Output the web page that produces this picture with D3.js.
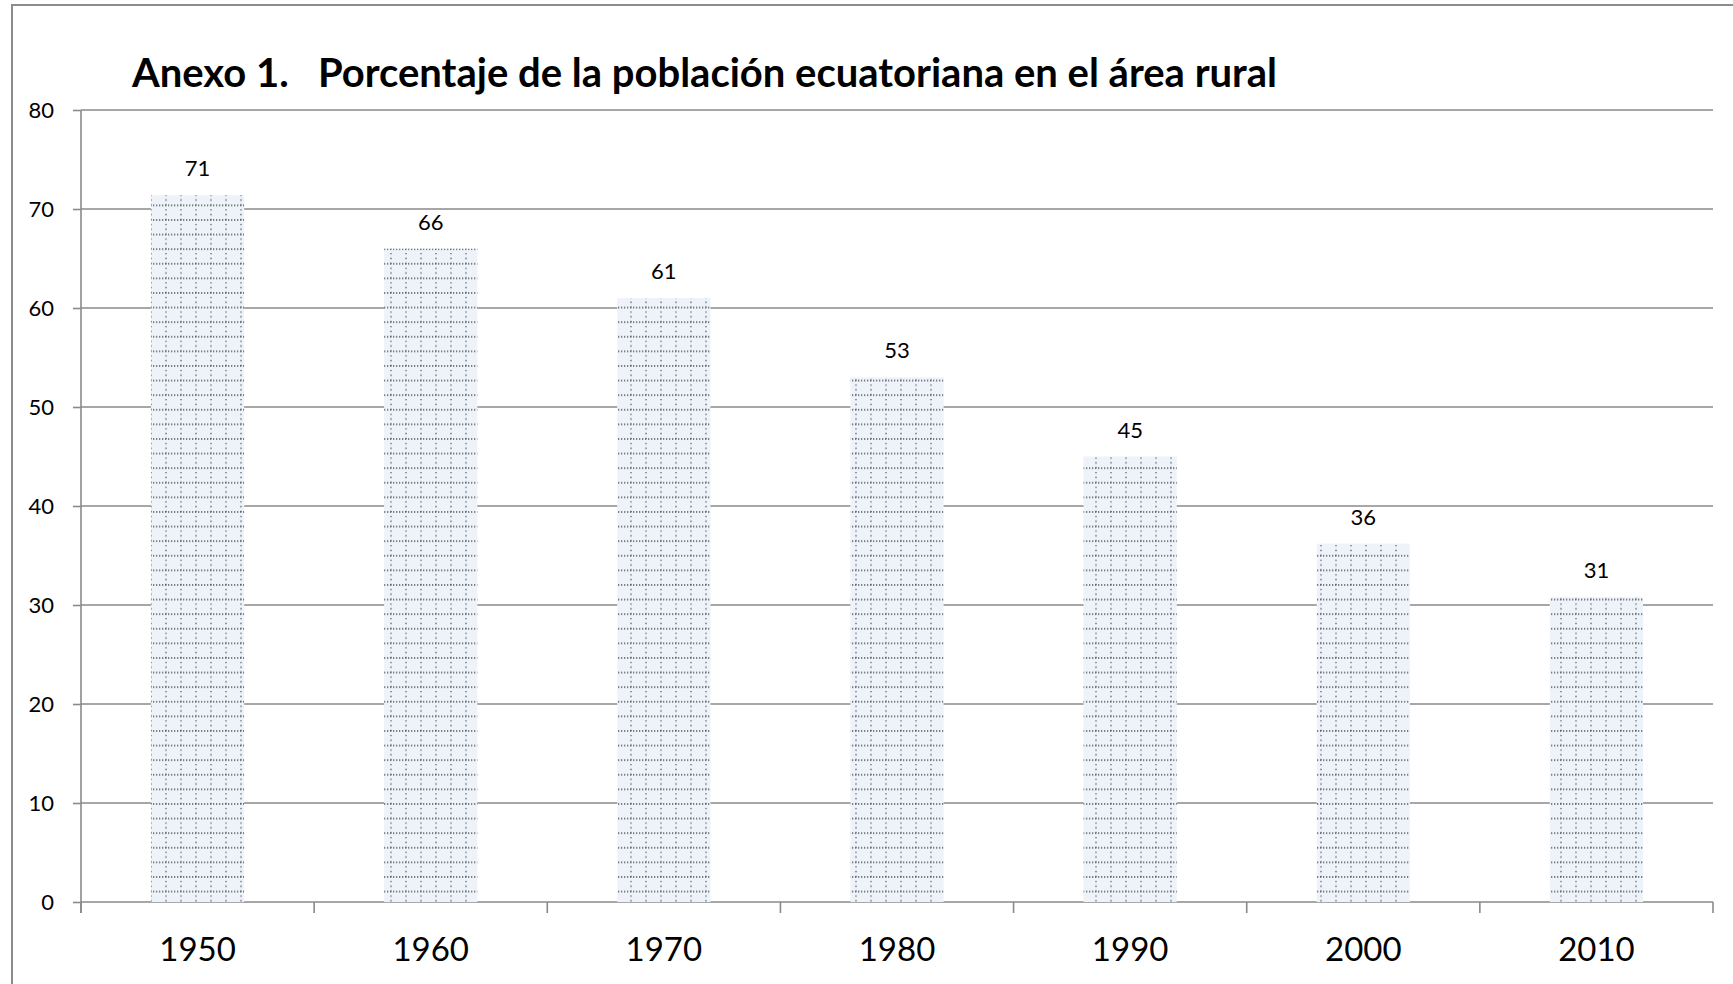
<!DOCTYPE html>
<html>
<head>
<meta charset="utf-8">
<script src="https://cdn.jsdelivr.net/npm/d3@7"></script>
<style>
  body { margin: 0; background: #fff; }
  text { font-family: Lato, "Open Sans", sans-serif; fill: #000; }
</style>
</head>
<body>
<div id="chart"></div>
<script>
// data
const years = ["1950", "1960", "1970", "1980", "1990", "2000", "2010"];
const ruralPct = [71.4, 66.0, 61.0, 53.0, 45.0, 36.2, 30.8];
const yTicks = [0, 10, 20, 30, 40, 50, 60, 70, 80];
const title = "Anexo 1.\u00a0\u00a0\u00a0Porcentaje de la población ecuatoriana en el área rural";

const W = 1733, H = 984;
const margin = { top: 110, right: 20, bottom: 82, left: 81 };
const gridColor = "#8a8a8a";

const svg = d3.select("#chart").append("svg")
  .attr("width", W)
  .attr("height", H);

// dotted grid fill like the excel pattern
const defs = svg.append("defs");
const pat = defs.append("pattern")
  .attr("id", "dots")
  .attr("patternUnits", "userSpaceOnUse")
  .attr("width", 15)
  .attr("height", 14.6);
pat.append("rect").attr("width", 15).attr("height", 14.6).attr("fill", "#edf3f9");
pat.append("line")
  .attr("x1", 0).attr("x2", 15).attr("y1", 1).attr("y2", 1)
  .attr("stroke", "#4f565e").attr("stroke-width", 1.3)
  .attr("stroke-dasharray", "1.3,1.7");
pat.append("line")
  .attr("x1", 1).attr("x2", 1).attr("y1", 0).attr("y2", 14.6)
  .attr("stroke", "#555c64").attr("stroke-width", 1.3)
  .attr("stroke-dasharray", "1.3,3.5");

// outer frame
svg.append("rect")
  .attr("x", 12).attr("y", 5)
  .attr("width", W + 20).attr("height", H + 20)
  .attr("fill", "none")
  .attr("stroke", "#8c8c8c")
  .attr("stroke-width", 2);

const y = d3.scaleLinear()
  .domain([0, 80])
  .range([H - margin.bottom, margin.top]);

const x = d3.scaleBand()
  .domain(years)
  .range([margin.left, W - margin.right])
  .paddingInner(0.6)
  .paddingOuter(0.3);

// horizontal gridlines
svg.append("g").selectAll("line")
  .data(yTicks)
  .join("line")
  .attr("x1", margin.left)
  .attr("x2", W - margin.right)
  .attr("y1", d => y(d))
  .attr("y2", d => y(d))
  .attr("stroke", gridColor)
  .attr("stroke-width", 1.6);

// bars
svg.append("g").selectAll("rect")
  .data(years)
  .join("rect")
  .attr("x", d => x(d))
  .attr("width", x.bandwidth())
  .attr("y", (d, i) => y(ruralPct[i]))
  .attr("height", (d, i) => y(0) - y(ruralPct[i]))
  .attr("fill", "url(#dots)");

// value labels
svg.append("g").selectAll("text")
  .data(years)
  .join("text")
  .attr("x", d => x(d) + x.bandwidth() / 2)
  .attr("y", (d, i) => y(ruralPct[i]) - 19)
  .attr("text-anchor", "middle")
  .attr("font-size", 22)
  .text((d, i) => d3.format(".0f")(ruralPct[i]));

// y axis
const yAxis = svg.append("g")
  .attr("transform", `translate(${margin.left},0)`)
  .call(d3.axisLeft(y).tickValues(yTicks).tickSize(8).tickPadding(19));
yAxis.select(".domain").remove();
yAxis.selectAll(".tick line").attr("stroke", gridColor).attr("stroke-width", 1.6);
yAxis.selectAll(".tick text").attr("font-size", 22).attr("font-family", "Lato, sans-serif").attr("fill", "#000");
yAxis.append("line")
  .attr("y1", margin.top).attr("y2", y(0) + 11)
  .attr("stroke", gridColor).attr("stroke-width", 1.6);

// x axis, labels centred, ticks on category boundaries
const xAxis = svg.append("g")
  .attr("transform", `translate(0,${y(0)})`)
  .call(d3.axisBottom(x).tickSize(0).tickPadding(36));
xAxis.select(".domain").remove();
xAxis.selectAll(".tick text").attr("font-size", 33).attr("font-family", "Lato, sans-serif").attr("fill", "#000");

const bounds = d3.range(years.length + 1).map(i => x.range()[0] + i * x.step());
xAxis.selectAll("line.bound")
  .data(bounds)
  .join("line")
  .attr("class", "bound")
  .attr("x1", d => d).attr("x2", d => d)
  .attr("y1", 0).attr("y2", 11)
  .attr("stroke", gridColor).attr("stroke-width", 1.6);

// title
svg.append("text")
  .attr("x", 132)
  .attr("y", 87)
  .attr("font-size", 40)
  .attr("font-weight", "bold")
  .text(title);
</script>
</body>
</html>
